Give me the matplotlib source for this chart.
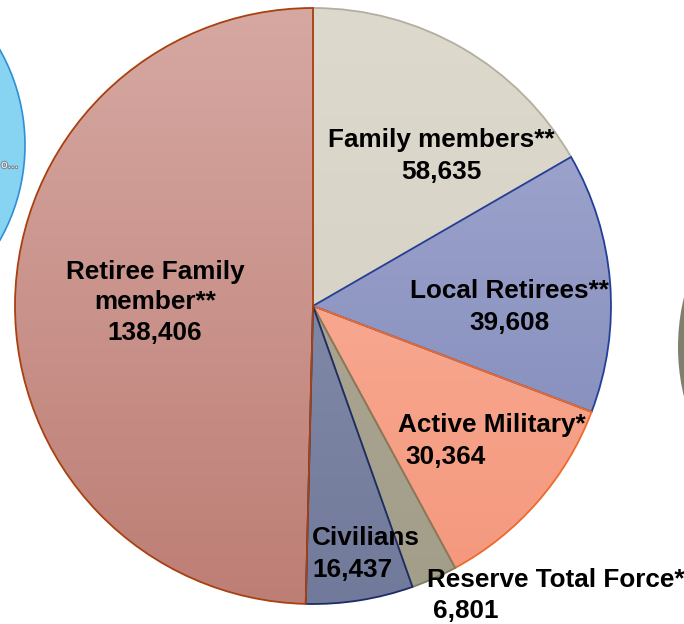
import numpy as np
import matplotlib
matplotlib.use("Agg")
import matplotlib.pyplot as plt
from matplotlib.patches import Circle
import matplotlib.patheffects as pe
from matplotlib.colors import LinearSegmentedColormap

# slices go clockwise from 12 o'clock
labels = ["Family members**", "Local Retirees**", "Active Military*",
          "Reserve Total Force*", "Civilians", "Retiree Family\nmember**"]
counts = [58635, 39608, 30364, 6801, 16437, 138406]
# slice sizes as drawn in the picture (degrees), which differ a bit from the counts
slice_deg = [60.0, 50.8, 40.7, 9.0, 20.9, 178.6]

fills = [("#DDD9CD", "#D2CEC1"), ("#A5ABD1", "#7C85B7"), ("#FBB7A2", "#F4977C"),
         ("#AFAB9A", "#A29E89"), ("#8E95B2", "#727A9B"), ("#D6A8A2", "#BD7E75")]
edges = ["#B5AE9E", "#233F98", "#EE6A2C", "#7E7C62", "#1B2C66", "#A9400F"]

W, H = 684, 624
fig = plt.figure(figsize=(W / 100, H / 100), dpi=100)
ax = fig.add_axes([0, 0, 1, 1])

cx, cy, r = 313, H - 306, 298

# bits of neighbouring shapes from the slide
ax.add_patch(Circle((-168, H - 145), 193, facecolor="#86D4F2", edgecolor="#2E8FD6", lw=1.2))
ax.text(1, H - 165, "o...", fontsize=8, color="#e8f4f8", va="center", ha="left",
        path_effects=[pe.withStroke(linewidth=1.5, foreground="#808890")])
ax.add_patch(Circle((889, H - 347), 211, facecolor="#7F7F6E", edgecolor="none"))

wedges, _ = ax.pie(slice_deg, startangle=90, counterclock=False, center=(cx, cy),
                   radius=r, wedgeprops=dict(linewidth=1.3))

grad = np.linspace(0, 1, 256).reshape(-1, 1)
for w, (top, bot), ec in zip(wedges, fills, edges):
    cmap = LinearSegmentedColormap.from_list("g", [top, bot])
    im = ax.imshow(grad, cmap=cmap, extent=(cx - r, cx + r, cy - r, cy + r),
                   origin="upper", aspect="auto", zorder=1, interpolation="bilinear")
    im.set_clip_path(w)
    w.set_facecolor("none")
    w.set_edgecolor(ec)
    w.set_zorder(2)

# label lines: (text, x, baseline y in px, ha)
fs = 18.8
label_lines = [
    (labels[0], 441, 147, "center"), (f"{counts[0]:,}", 441, 179, "center"),
    (labels[1], 509, 298, "center"), (f"{counts[1]:,}", 509, 330, "center"),
    (labels[2], 492, 432, "center"), (f"{counts[2]:,}", 405, 464, "left"),
    (labels[3], 427, 587, "left"), (f"{counts[3]:,}", 433, 618, "left"),
    (labels[4], 312, 545, "left"), (f"{counts[4]:,}", 312, 577, "left"),
]
ret = labels[5].split("\n") + [f"{counts[5]:,}"]
for line, yb in zip(ret, [279, 309, 340]):
    label_lines.append((line, 155, yb, "center"))

for txt, x, yb, ha in label_lines:
    ax.text(x, H - yb, txt, fontsize=fs, fontweight="bold", family="Liberation Sans",
            ha=ha, va="baseline", color="black", zorder=5, clip_on=False)

ax.set_xlim(0, W)
ax.set_ylim(0, H)
ax.set_aspect("equal")
ax.axis("off")
fig.savefig("out.png", dpi=100)
